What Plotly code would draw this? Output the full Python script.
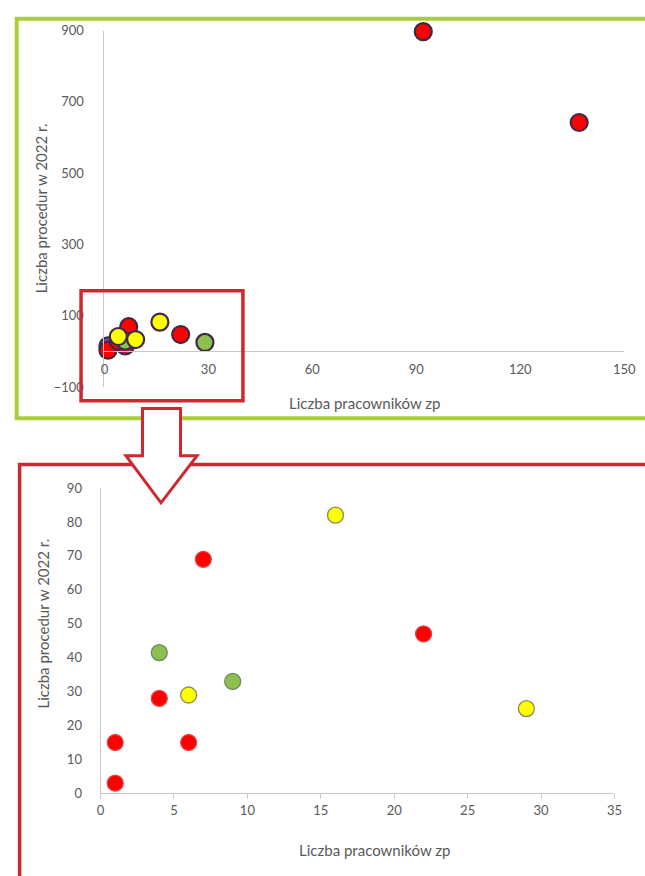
import plotly.graph_objects as go

# ---------------- data ----------------
# detail chart (zoomed region)
x_detail = [1, 1, 4, 6, 7, 22, 4, 9, 6, 16, 29]
y_detail = [15, 3, 28, 15, 69, 47, 41.5, 33, 29, 82, 25]
cat_detail = ["red", "red", "red", "red", "red", "red",
              "green", "green", "yellow", "yellow", "yellow"]

# overview chart (all units)
x_over = [1, 1, 4, 6, 7, 22, 4, 9, 6, 16, 29, 92, 137]
y_over = [15, 3, 28, 15, 69, 47, 41.5, 33, 29, 82, 25, 897, 642]
cat_over = ["purple", "red", "red", "maroon", "red", "red",
            "yellow", "yellow", "green", "yellow", "green", "red", "red"]

x_ticks_over = [0, 30, 60, 90, 120, 150]
y_ticks_over = [-100, 100, 300, 500, 700, 900]
x_ticks_detail = [0, 5, 10, 15, 20, 25, 30, 35]
y_ticks_detail = [0, 10, 20, 30, 40, 50, 60, 70, 80, 90]

x_title = "Liczba pracowników zp"
y_title = "Liczba procedur w 2022 r."

# ---------------- styling ----------------
W, H = 645, 876
FONT = "Lato"
TICK_COLOR = "#595959"
AXIS_COLOR = "#C8C8C8"
fill = {"red": "#FF0000", "yellow": "#FFFF00", "green": "#8CC152",
        "purple": "#7E4A8E", "maroon": "#B02048"}
edge_detail = {"red": "#E04848", "yellow": "#8A8A5A", "green": "#6E8A5A"}


def px(x):
    return x / W


def py(y):
    return 1 - y / H


fig = go.Figure()

# overview traces (drawn in color order to match overlap)
for c in ["purple", "maroon", "red", "green", "yellow"]:
    xs = [x for x, k in zip(x_over, cat_over) if k == c]
    ys = [y for y, k in zip(y_over, cat_over) if k == c]
    fig.add_trace(go.Scatter(
        x=xs, y=ys, mode="markers", xaxis="x", yaxis="y", showlegend=False,
        cliponaxis=False, hoverinfo="skip",
        marker=dict(size=17, color=fill[c], line=dict(color="#3E2A48", width=2.2)),
    ))

# detail traces
for c in ["red", "green", "yellow"]:
    xs = [x for x, k in zip(x_detail, cat_detail) if k == c]
    ys = [y for y, k in zip(y_detail, cat_detail) if k == c]
    fig.add_trace(go.Scatter(
        x=xs, y=ys, mode="markers", xaxis="x2", yaxis="y2", showlegend=False,
        cliponaxis=False, hoverinfo="skip",
        marker=dict(size=16, color=fill[c], line=dict(color=edge_detail[c], width=1.3)),
    ))

# domains
top_x_dom = [px(103), px(636)]
top_y_dom = [py(386), py(23)]
bot_x_dom = [px(99), px(626)]
bot_y_dom = [py(800), py(489)]

top_yrange = [-100, 900]
zero_pos = top_y_dom[0] + (0 - top_yrange[0]) / (top_yrange[1] - top_yrange[0]) * (top_y_dom[1] - top_y_dom[0])

tickfont = dict(family=FONT, size=13, color=TICK_COLOR)

fig.update_layout(
    width=W, height=H,
    margin=dict(l=0, r=0, t=0, b=0),
    paper_bgcolor="white", plot_bgcolor="white",
    font=dict(family=FONT),
    xaxis=dict(domain=top_x_dom, range=[0, 150], anchor="free", position=zero_pos,
               tickvals=x_ticks_over, showgrid=False, zeroline=False,
               showline=True, linecolor=AXIS_COLOR, linewidth=1, ticks="",
               tickfont=tickfont, ticklabelstandoff=6),
    yaxis=dict(domain=top_y_dom, range=top_yrange, anchor="x",
               tickvals=y_ticks_over, showgrid=False, zeroline=False,
               showline=True, linecolor=AXIS_COLOR, linewidth=1, ticks="",
               tickfont=tickfont, ticklabelstandoff=17),
    xaxis2=dict(domain=bot_x_dom, range=[0, 35], anchor="y2",
                tickvals=x_ticks_detail, showgrid=False, zeroline=False,
                showline=True, linecolor=AXIS_COLOR, linewidth=1,
                ticks="outside", ticklen=5, tickcolor=AXIS_COLOR,
                tickfont=tickfont),
    yaxis2=dict(domain=bot_y_dom, range=[0, 90], anchor="x2",
                tickvals=y_ticks_detail, showgrid=False, zeroline=False,
                showline=True, linecolor=AXIS_COLOR, linewidth=1, ticks="",
                tickfont=tickfont, ticklabelstandoff=15),
)

# axis titles as annotations
title_font = dict(family=FONT, size=15, color=TICK_COLOR)
fig.add_annotation(x=px(370), y=py(402), xref="paper", yref="paper", text=x_title,
                   showarrow=False, font=title_font, xanchor="center", yanchor="middle")
fig.add_annotation(x=px(38), y=py(204), xref="paper", yref="paper", text=y_title,
                   showarrow=False, font=title_font, textangle=-90,
                   xanchor="center", yanchor="middle")
fig.add_annotation(x=px(380), y=py(858), xref="paper", yref="paper", text=x_title,
                   showarrow=False, font=title_font, xanchor="center", yanchor="middle")
fig.add_annotation(x=px(40), y=py(627), xref="paper", yref="paper", text=y_title,
                   showarrow=False, font=title_font, textangle=-90,
                   xanchor="center", yanchor="middle")

# decorative frames
GREEN = "#A8CF3A"
RED = "#CC2A30"
fig.add_shape(type="rect", xref="paper", yref="paper",
              x0=px(13), x1=px(660), y0=py(11), y1=py(418),
              line=dict(color=GREEN, width=4))
fig.add_shape(type="rect", xref="paper", yref="paper",
              x0=px(16), x1=px(670), y0=py(465), y1=py(900),
              line=dict(color=RED, width=3.5))
fig.add_shape(type="rect", xref="paper", yref="paper",
              x0=px(79), x1=px(245), y0=py(288), y1=py(400),
              line=dict(color=RED, width=3.5))

arrow_pts = [(142, 408), (181, 408), (181, 456), (198, 456), (161, 504), (125, 456), (142, 456)]
path = "M " + " L ".join(f"{px(a):.5f},{py(b):.5f}" for a, b in arrow_pts) + " Z"
fig.add_shape(type="path", xref="paper", yref="paper", path=path,
              fillcolor="white", line=dict(color=RED, width=3))

fig.write_html(
    "out.html",
    config={"displayModeBar": False, "staticPlot": True},
    post_script=(
        "var gd=document.getElementById('{plot_id}');"
        "gd.style.position='fixed';gd.style.left='0px';gd.style.top='0px';"
        "document.body.style.margin='0';document.body.style.overflow='hidden';"
        "document.documentElement.style.overflow='hidden';"
    ),
)
